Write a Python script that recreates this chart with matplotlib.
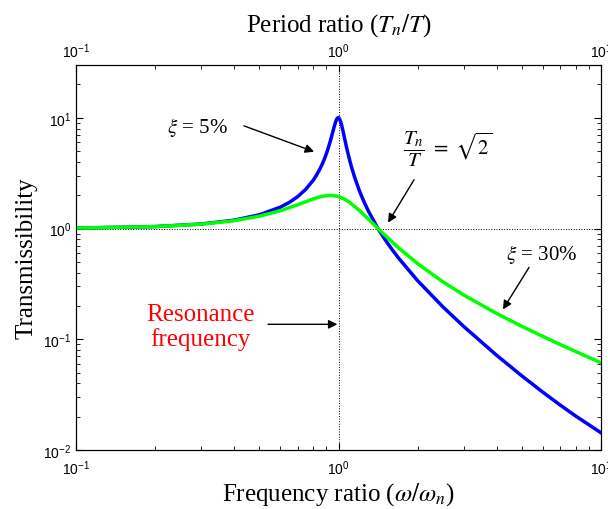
import numpy as np
import matplotlib
matplotlib.use('Agg')
import matplotlib.pyplot as plt

plt.rcParams['mathtext.fontset'] = 'stix'
plt.rcParams['font.family'] = ['Liberation Serif', 'DejaVu Serif']

# frequency ratio and transmissibility
r_5 = [0.1, 0.2, 0.3, 0.4, 0.5, 0.6, 0.65, 0.7, 0.75, 0.8, 0.82, 0.85, 0.87, 0.88, 0.9, 0.91,
       0.93, 0.94, 0.95, 0.96, 0.97, 0.98, 0.99, 1.0, 1.01, 1.02, 1.03, 1.04, 1.05, 1.06,
       1.07, 1.08, 1.1, 1.12, 1.15, 1.2, 1.25, 1.3, 1.414, 1.5, 1.6, 1.7, 2.0, 2.5, 3.0,
       4.0, 5.0, 6.0, 7.0, 8.0, 10.0]
tr_5 = [1.010, 1.042, 1.099, 1.190, 1.332, 1.559, 1.724, 1.947, 2.259, 2.720, 2.971, 3.458,
        3.888, 4.146, 4.776, 5.163, 6.123, 6.713, 7.379, 8.105, 8.845, 9.506, 9.951, 10.05,
        9.760, 9.162, 8.401, 7.606, 6.852, 6.176, 5.583, 5.070, 4.244, 3.620, 2.940, 2.208,
        1.749, 1.436, 1.000, 0.803, 0.646, 0.535, 0.339, 0.196, 0.1304, 0.0718, 0.0466,
        0.0333, 0.0254, 0.0203, 0.0143]

r_30 = [0.1, 0.2, 0.3, 0.4, 0.5, 0.6, 0.7, 0.8, 0.85, 0.9, 0.93, 0.95, 1.0, 1.05, 1.1,
        1.2, 1.3, 1.414, 1.5, 1.7, 2.0, 2.5, 3.0, 4.0, 5.0, 6.0, 7.0, 8.0, 10.0]
tr_30 = [1.010, 1.041, 1.095, 1.177, 1.293, 1.447, 1.642, 1.849, 1.933, 1.985, 1.995, 1.991,
         1.944, 1.852, 1.730, 1.460, 1.218, 1.000, 0.873, 0.665, 0.483, 0.330, 0.251, 0.171,
         0.1307, 0.1062, 0.0896, 0.0776, 0.0613]

fig = plt.figure(figsize=(6.08, 5.10), dpi=100)
ax = fig.add_axes([0.125, 0.1157, 0.8635, 0.7549])

ax.axvline(1, color='k', ls=':', lw=0.7, zorder=1)
ax.axhline(1, color='k', ls=':', lw=0.7, zorder=1)

ax.plot(r_5, tr_5, color=(0, 0, 1), lw=2.5, zorder=3)
ax.plot(r_30, tr_30, color=(0, 1, 0), lw=2.5, zorder=3)

ax.set_xscale('log')
ax.set_yscale('log')
ax.set_xlim(0.1, 10)
ax.set_ylim(0.01, 30)

ax.set_xlabel(r'Frequency ratio ($\omega/\omega_n$)', fontsize=18, labelpad=2)
ax.set_ylabel('Transmissibility', fontsize=18, labelpad=4)

ax.tick_params(which='both', direction='in', top=False, right=True, labelsize=10)
ax.tick_params(which='major', length=5, width=0.8)
ax.tick_params(which='minor', length=3, width=0.6)
ax.tick_params(axis='x', pad=6)
for lab in ax.get_xticklabels() + ax.get_yticklabels():
    lab.set_fontfamily('Liberation Sans')

ax2 = ax.twiny()
ax2.set_xscale('log')
ax2.set_xlim(0.1, 10)
ax2.set_xlabel(r'Period ratio ($T_n/T$)', fontsize=18, labelpad=8)
ax2.tick_params(which='both', direction='in', labelsize=10)
ax2.tick_params(which='major', length=5, width=0.8)
ax2.tick_params(which='minor', length=3, width=0.6)
for lab in ax2.get_xticklabels():
    lab.set_fontfamily('Liberation Sans')

arrow = dict(arrowstyle='-|>', color='k', lw=1, mutation_scale=13, shrinkA=0, shrinkB=0)

ax.annotate('', xy=(0.807, 4.94), xytext=(0.436, 8.47), arrowprops=arrow)
ax.text(0.289, 8.3, r'$\xi$ = 5%', fontsize=15, ha='center', va='center')

ax.annotate('', xy=(1.544, 1.13), xytext=(1.94, 2.76), arrowprops=arrow)
ax.text(2.6, 5.3, r'$\dfrac{T_n}{T}\ =\ \sqrt{2}$', fontsize=15, ha='center', va='center')

ax.annotate('', xy=(4.23, 0.186), xytext=(5.32, 0.446), arrowprops=arrow)
ax.text(5.96, 0.596, r'$\xi$ = 30%', fontsize=15, ha='center', va='center')

ax.annotate('', xy=(0.99, 0.1365), xytext=(0.539, 0.1365), arrowprops=arrow)
ax.text(0.297, 0.131, 'Resonance\nfrequency', fontsize=18, color='red',
        ha='center', va='center', linespacing=1.1)

fig.savefig('out.png', dpi=100)
